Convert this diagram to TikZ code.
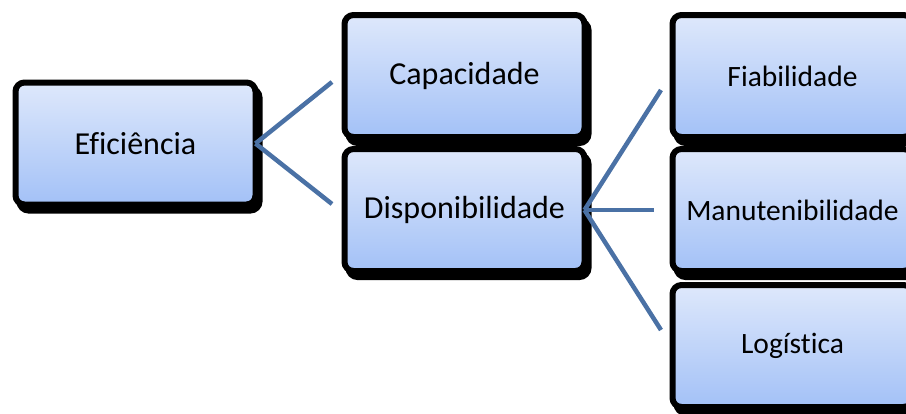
\documentclass[tikz,border=0pt]{standalone}
\usepackage{fontspec}
\setmainfont{Carlito}[Ligatures=CommonOff]
\usetikzlibrary{shadows,calc}
\definecolor{boxtop}{RGB}{222,232,251}
\definecolor{boxbot}{RGB}{163,193,247}
\definecolor{linkblue}{RGB}{74,113,165}
\tikzset{
  box/.style={rounded corners=9pt, draw=black, line width=6pt,
    top color=boxtop, bottom color=boxbot,
    minimum width=240pt, minimum height=122pt, inner sep=0pt,
    font=\fontsize{32}{38}\selectfont,
    drop shadow={shadow xshift=4pt, shadow yshift=-6pt, fill=black,
      draw=black, line width=6pt, opacity=1}},
  leaf/.style={box, font=\fontsize{29.5}{35}\selectfont},
  conn/.style={draw=linkblue, line width=4.5pt}
}
\begin{document}
\begin{tikzpicture}[x=1pt, y=-1pt]
\useasboundingbox (0,0) rectangle (906,413);
% boxes
\node[box]  (ef)  at (135.5,143.5) {Eficiência};
\node[box]  (cap) at (464.5,76)    {Capacidade};
\node[box]  (dis) at (464.5,210)   {Disponibilidade};
\node[leaf] (fia) at (792.5,76)    {Fiabilidade};
\node[leaf] (man) at (792.5,210)   {Manutenibilidade};
\node[leaf] (log) at (792.5,346)   {Logística};
% connector ends
\coordinate (c1) at ($(cap.west)+(-9.5,6)$);
\coordinate (c2) at ($(dis.west)+(-9.5,-6)$);
\coordinate (f1) at ($(fia.west)+(-8.5,14)$);
\coordinate (f2) at ($(man.west)+(-15.5,0)$);
\coordinate (f3) at ($(log.west)+(-8.5,-16)$);
% connectors
\draw[conn] ([xshift=-3pt]ef.east) -- (c1);
\draw[conn] ([xshift=-3pt]ef.east) -- (c2);
\draw[conn] ([xshift=-3pt]dis.east) -- (f1);
\draw[conn] ([xshift=-3pt]dis.east) -- (f2);
\draw[conn] ([xshift=-3pt]dis.east) -- (f3);
\end{tikzpicture}
\end{document}
